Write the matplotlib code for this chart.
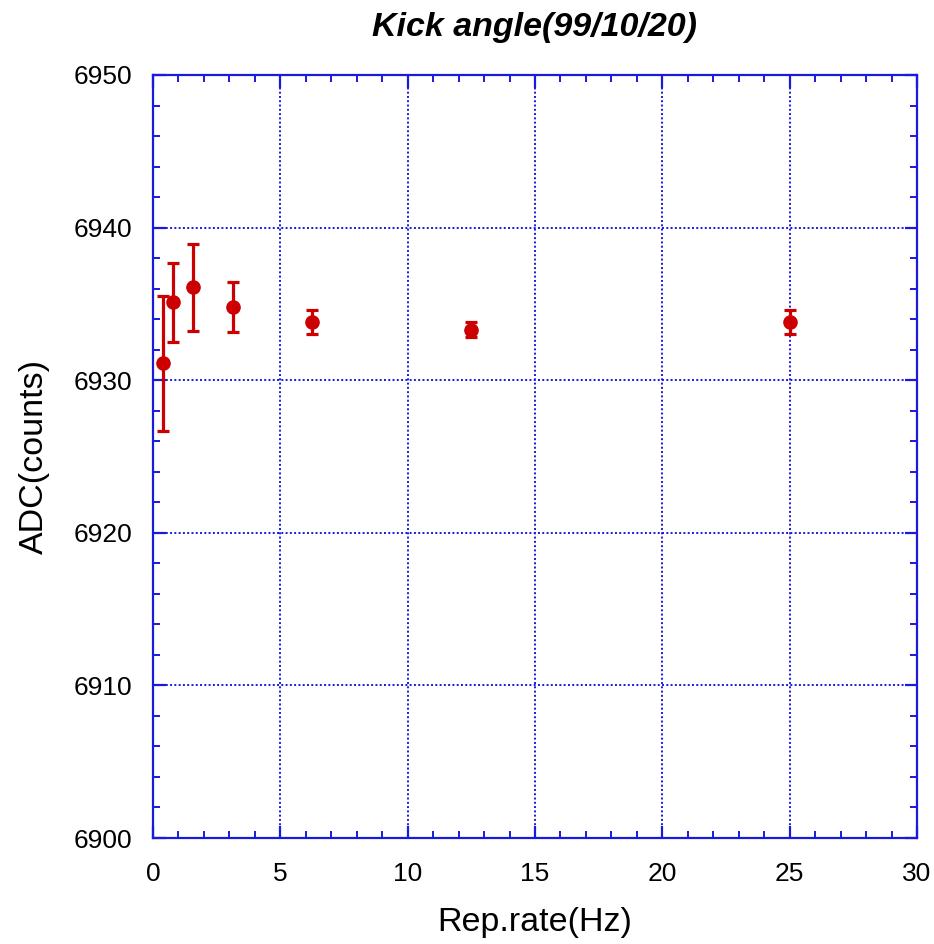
import numpy as np
import matplotlib.pyplot as plt
from matplotlib.ticker import MultipleLocator

plt.rcParams['font.family'] = ['Liberation Sans', 'DejaVu Sans']

rep_rate = [0.39, 0.78, 1.56, 3.125, 6.25, 12.5, 25.0]
adc = [6931.1, 6935.1, 6936.1, 6934.8, 6933.8, 6933.3, 6933.8]
adc_err = [4.4, 2.6, 2.85, 1.65, 0.8, 0.5, 0.8]

blue = '#1a1adc'
red = '#cc0000'

fig = plt.figure(figsize=(9.34, 9.44), dpi=100)
ax = fig.add_axes([153/934, 1 - 838/944, (917-153)/934, (838-75)/944])

ax.errorbar(rep_rate, adc, yerr=adc_err, fmt='o', color=red, ms=9.5,
            elinewidth=2.3, capsize=4.6, capthick=2.3, zorder=3)

ax.set_xlim(0, 30)
ax.set_ylim(6900, 6950)
ax.xaxis.set_major_locator(MultipleLocator(5))
ax.xaxis.set_minor_locator(MultipleLocator(1))
ax.yaxis.set_major_locator(MultipleLocator(10))
ax.yaxis.set_minor_locator(MultipleLocator(2))

ax.grid(True, which='major', color=blue, linestyle=(0, (1, 1.2)), linewidth=1.4)
for s in ax.spines.values():
    s.set_color(blue)
    s.set_linewidth(1.6)
ax.tick_params(which='both', direction='in', top=True, right=True, color=blue,
               labelsize=19)
ax.tick_params(axis='x', pad=17)
ax.tick_params(axis='y', pad=15)
ax.tick_params(which='major', length=9, width=1.6)
ax.tick_params(which='minor', length=5, width=1.4)

ax.set_xlabel('Rep.rate(Hz)', fontsize=24.5)
ax.set_ylabel('ADC(counts)', fontsize=24.5)
ax.xaxis.set_label_coords(0.5, -0.09)
ax.yaxis.set_label_coords(-0.135, 0.5)
ax.set_title('Kick angle(99/10/20)', fontsize=24.5, fontweight='bold',
             fontstyle='italic', pad=28)

fig.savefig('out.png', dpi=100)
